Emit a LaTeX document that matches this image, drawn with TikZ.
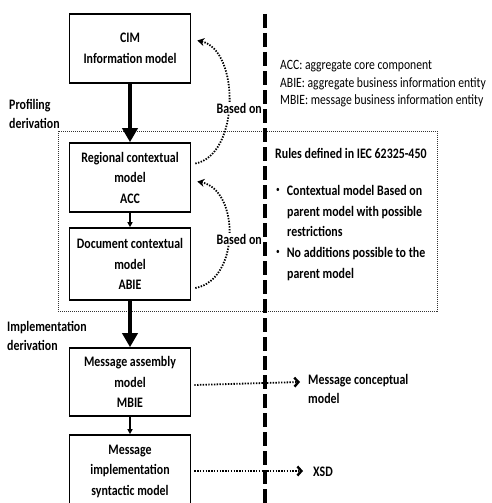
\documentclass[tikz,border=0pt]{standalone}
\usepackage{fontspec}
\setmainfont{Carlito}[FakeStretch=0.82]
\usetikzlibrary{arrows.meta}

\newcommand{\smallbullet}{\raisebox{2.5pt}{\fontsize{9}{9}\selectfont\mdseries•}}

\begin{document}
\begin{tikzpicture}[x=1pt,y=-1pt,
  model/.style={draw,line width=1.6pt,minimum width=121pt,minimum height=69pt,
    align=center,inner sep=2pt,font=\fontsize{14.5}{20.5}\selectfont\bfseries},
  label/.style={align=left,inner sep=1pt,font=\fontsize{14.5}{18.5}\selectfont\bfseries},
  bigstep/.style={line width=4pt,-{Triangle[length=14pt,width=15pt]}},
  smallstep/.style={line width=1.2pt,-{Triangle[length=5pt,width=5pt]}},
  basedon/.style={line width=1.8pt,dash pattern=on 1.4pt off 1.4pt,-{Stealth[length=7pt,width=8pt]}},
  mapsto/.style={line width=1.8pt,dash pattern=on 1.4pt off 1.4pt,-{Straight Barb[length=4pt,width=9pt,line width=2.4pt]}}]
      \clip (0,0) rectangle (492,503);
      %models
      \node[model] (cim) at (130,48.5) {CIM\\Information model};
      \node[model] (regional) at (130,177.5) {Regional contextual\\model\\ACC};
      \node[model,minimum height=72pt] (document) at (130,264) {Document contextual\\model\\ABIE};
      \node[model,minimum height=68pt] (assembly) at (130,382) {Message assembly\\model\\MBIE};
      \node[model,minimum height=72pt] (syntactic) at (130,471) {Message\\implementation\\syntactic model};
      %frame and divider
      \draw[line width=1pt,dash pattern=on 1pt off 1pt,black!80] (58,131) rectangle (437,311);
      \draw[line width=3.5pt,dash pattern=on 14pt off 5pt] (265,14) -- (265,510);
      %texts
      \node[label,anchor=west] (profiling) at (8,114) {Profiling\\derivation};
      \node[label,anchor=west] (implementation) at (6,336) {Implementation\\derivation};
      \node[label,anchor=west,font=\fontsize{14.2}{17.5}\selectfont] (legend) at (279,84)
        {ACC: aggregate core component\\ABIE: aggregate business information entity\\MBIE: message business information entity};
      \node[label,anchor=west] (rules) at (274,153) {Rules defined in IEC 62325-450};
      \node[label,anchor=north west,font=\fontsize{14.5}{20.7}\selectfont\bfseries] (bullets) at (275,184)
        {\smallbullet\hspace{7pt}Contextual model Based on\\\hspace*{11pt}parent model with possible\\\hspace*{11pt}restrictions\\
         \smallbullet\hspace{7pt}No additions possible to the\\\hspace*{11pt}parent model};
      \node[label,anchor=west] (conceptual) at (307,389) {Message conceptual\\model};
      \node[label,anchor=west] (xsd) at (312,472) {XSD};
      %derivations
      \draw[bigstep] (cim) -- (regional);
      \draw[smallstep] (regional) -- (document);
      \draw[bigstep] (document) -- (assembly);
      \draw[smallstep] (assembly) -- (syntactic);
      %based on
      \draw[basedon] ([xshift=4pt,yshift=14pt]regional.east) .. controls (240,155) and (240,50) .. ([xshift=6pt,yshift=8pt]cim.east);
      \draw[basedon] ([xshift=4pt,yshift=-24pt]document.east) .. controls (240,280) and (240,190) .. ([xshift=6pt,yshift=-4pt]regional.east);
      \node[label,fill=white,anchor=east] (based1) at (263,108) {Based on};
      \node[label,fill=white,anchor=east] (based2) at (263,239) {Based on};
      %mappings
      \draw[mapsto] ([xshift=3pt,yshift=-3pt]assembly.east) -- ([xshift=-7pt]assembly.east -| conceptual.west);
      \draw[mapsto] ([xshift=3pt]syntactic.east) -- ([xshift=-9pt]syntactic.east -| xsd.west);
\end{tikzpicture}
\end{document}
